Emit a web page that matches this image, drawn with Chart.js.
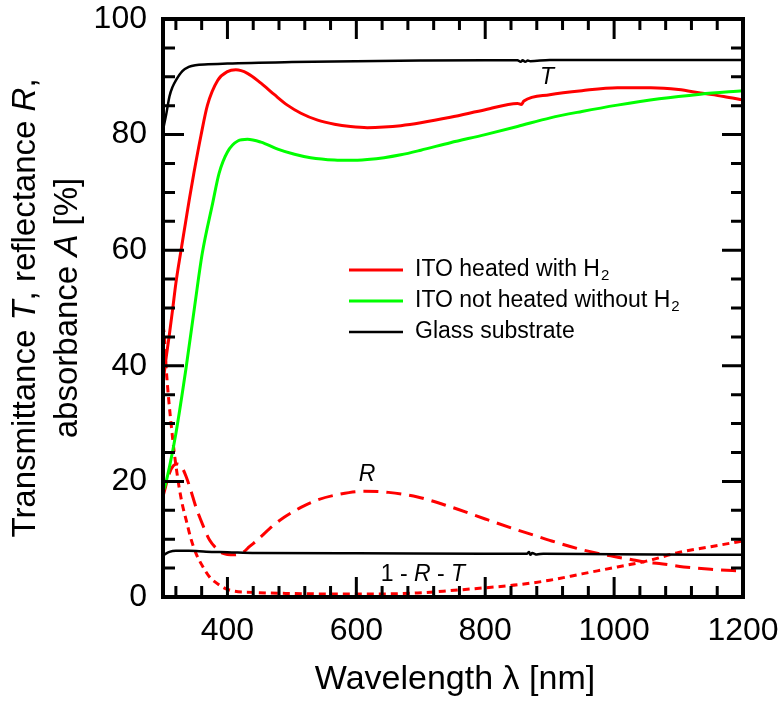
<!DOCTYPE html>
<html>
<head>
<meta charset="utf-8">
<script src="https://cdn.jsdelivr.net/npm/chart.js@4.4.1/dist/chart.umd.min.js"></script>
<style>
  html, body { margin: 0; padding: 0; background: #fff; }
  #wrap { width: 784px; height: 701px; }
</style>
</head>
<body>
<div id="wrap"><canvas id="spectra" width="784" height="701"></canvas></div>
<script>
// ---- data (wavelength in nm, values in %) ----
const glassTNm = [300, 305, 310, 315, 320, 330, 340, 350, 370, 400, 500, 600, 700, 800, 850, 855, 858, 862, 866, 870, 900, 1000, 1100, 1200];
const glassT   = [80.8, 83.5, 86.6, 88.3, 89.4, 91.0, 91.7, 92.0, 92.15, 92.3, 92.55, 92.7, 92.8, 92.85, 92.85, 92.6, 92.85, 92.6, 92.8, 92.7, 92.9, 92.9, 92.9, 92.9];

const glassRNm = [300, 310, 320, 340, 367, 400, 444, 600, 800, 865, 868, 870, 873, 880, 890, 1000, 1200];
const glassR   = [7.2, 7.8, 8.0, 8.0, 7.85, 7.75, 7.6, 7.55, 7.5, 7.5, 7.8, 7.3, 7.6, 7.35, 7.5, 7.4, 7.3];

const heatedTNm = [300, 305, 310, 315, 320, 328, 335, 341, 348, 359, 369, 385, 400, 413, 431, 452, 473, 493, 514, 540, 566, 591, 617, 643, 669, 700, 746, 800, 850, 856, 860, 900, 950, 1005, 1057, 1100, 1134, 1170, 1200];
const heatedT   = [37.0, 41.5, 45.5, 49.8, 54.3, 60.0, 64.8, 68.9, 73.4, 79.9, 85.1, 89.4, 90.9, 91.2, 90.6, 88.9, 86.9, 85.1, 83.7, 82.5, 81.8, 81.4, 81.2, 81.3, 81.55, 82.05, 83.0, 84.3, 85.4, 85.2, 85.8, 86.9, 87.6, 88.1, 88.1, 87.8, 87.2, 86.6, 86.0];

const plainTNm = [300, 302, 310, 320, 336, 349, 361, 377, 387, 400, 416, 431, 452, 478, 504, 529, 566, 591, 617, 643, 669, 700, 746, 800, 850, 901, 950, 1005, 1070, 1134, 1200];
const plainT   = [18.5, 18.8, 22.5, 28.3, 39.8, 50.2, 59.5, 68.1, 73.3, 77.0, 78.9, 79.2, 78.7, 77.5, 76.6, 76.0, 75.6, 75.55, 75.7, 76.0, 76.5, 77.3, 78.6, 80.0, 81.4, 82.9, 84.0, 85.1, 86.2, 87.0, 87.6];

const heatedRNm = [300, 310, 316, 323, 330, 336, 343, 351, 362, 372, 382, 392, 411, 425, 434, 447, 465, 488, 514, 540, 575, 612, 650, 695, 746, 800, 850, 875, 900, 953, 1000, 1030, 1050, 1070, 1108, 1150, 1200];
const heatedR   = [17.4, 21.4, 22.7, 23.0, 22.3, 20.8, 18.5, 15.6, 12.4, 9.9, 8.5, 7.6, 7.3, 7.8, 8.7, 9.9, 11.8, 13.8, 15.5, 16.8, 17.8, 18.3, 18.1, 17.3, 15.6, 13.5, 11.6, 10.7, 9.8, 8.1, 7.0, 6.4, 6.0, 5.8, 5.2, 4.8, 4.5];

const heatedANm = [300, 302, 305, 309, 313, 317, 321, 325, 330, 336, 343, 351, 360, 372, 387, 403, 440, 500, 600, 695, 746, 800, 850, 900, 950, 1005, 1050, 1100, 1150, 1200];
const heatedA   = [47.0, 45.3, 39.5, 34.0, 29.5, 25.4, 22.0, 19.0, 16.0, 13.3, 10.2, 7.6, 5.6, 3.5, 2.1, 1.2, 0.8, 0.6, 0.5, 0.7, 1.1, 1.6, 2.1, 2.9, 4.0, 5.2, 6.2, 7.7, 8.7, 9.7];

const xTickLabels = [400, 600, 800, 1000, 1200];
const yTickLabels = [0, 20, 40, 60, 80, 100];

const FONT = '"Liberation Sans", Arial, Helvetica, sans-serif';

function pts(xs, ys) {
  return xs.map((v, i) => ({ x: v, y: ys[i] }));
}

function line(data, color, width, dash) {
  return {
    data: data,
    borderColor: color,
    borderWidth: width,
    borderDash: dash || [],
    pointRadius: 0,
    fill: false,
    cubicInterpolationMode: 'monotone'
  };
}

// text with some italic pieces, e.g. [['1 - ', 0], ['R', 1]]
function richText(ctx, parts, x, y, size, align) {
  const fontOf = it => (it ? 'italic ' : '') + size + 'px ' + FONT;
  let w = 0;
  parts.forEach(p => { ctx.font = fontOf(p[1]); w += ctx.measureText(p[0]).width; });
  let cx = align === 'center' ? x - w / 2 : x;
  ctx.textAlign = 'left';
  parts.forEach(p => {
    ctx.font = fontOf(p[1]);
    ctx.fillText(p[0], cx, y);
    cx += ctx.measureText(p[0]).width;
  });
}

const decorations = {
  id: 'decorations',
  afterDraw(chart) {
    const { ctx, chartArea: a, scales: { x, y } } = chart;
    ctx.save();
    ctx.strokeStyle = '#000';
    ctx.fillStyle = '#000';

    // inward ticks on all four sides
    ctx.lineWidth = 3;
    for (let v = 320; v < 1200; v += 40) {
      const px = x.getPixelForValue(v);
      const len = xTickLabels.includes(v) ? 20 : 11;
      ctx.beginPath();
      ctx.moveTo(px, a.bottom); ctx.lineTo(px, a.bottom - len);
      ctx.moveTo(px, a.top); ctx.lineTo(px, a.top + len);
      ctx.stroke();
    }
    for (let v = 5; v < 100; v += 5) {
      const py = y.getPixelForValue(v);
      const len = v % 20 === 0 ? 21 : 12;
      ctx.beginPath();
      ctx.moveTo(a.left, py); ctx.lineTo(a.left + len, py);
      ctx.moveTo(a.right, py); ctx.lineTo(a.right - len, py);
      ctx.stroke();
    }

    // frame
    ctx.lineWidth = 4;
    ctx.strokeRect(a.left, a.top, a.right - a.left, a.bottom - a.top);

    // axis titles
    ctx.textBaseline = 'middle';
    richText(ctx, [['Wavelength \u03bb [nm]', 0]], 455, 680, 34, 'center');

    ctx.save();
    ctx.translate(26, 308);
    ctx.rotate(-Math.PI / 2);
    richText(ctx, [['Transmittance ', 0], ['T', 1], [', reflectance ', 0], ['R', 1], [',', 0]], 0, 0, 33, 'center');
    ctx.restore();
    ctx.save();
    ctx.translate(68, 308);
    ctx.rotate(-Math.PI / 2);
    richText(ctx, [['absorbance ', 0], ['A', 1], [' [%]', 0]], 0, 0, 33, 'center');
    ctx.restore();

    // curve labels
    richText(ctx, [['T', 1]], 547, 78, 23, 'center');
    richText(ctx, [['R', 1]], 367, 475, 23, 'center');
    richText(ctx, [['1 - ', 0], ['R', 1], [' - ', 0], ['T', 1]], 423, 575, 23, 'center');

    // legend
    const rows = [
      ['#ff0000', 'ITO heated with H', '2'],
      ['#00ff00', 'ITO not heated without H', '2'],
      ['#000000', 'Glass substrate', '']
    ];
    rows.forEach((r, i) => {
      const ry = 270 + i * 31;
      ctx.strokeStyle = r[0];
      ctx.lineWidth = i === 2 ? 2.5 : 3;
      ctx.beginPath();
      ctx.moveTo(349, ry); ctx.lineTo(403, ry);
      ctx.stroke();
      ctx.font = '23px ' + FONT;
      ctx.textAlign = 'left';
      ctx.fillText(r[1], 415, ry);
      if (r[2]) {
        const w = ctx.measureText(r[1]).width;
        ctx.font = '15px ' + FONT;
        ctx.fillText(r[2], 415 + w + 1, ry + 6);
      }
    });
    ctx.restore();
  }
};

new Chart(document.getElementById('spectra'), {
  type: 'line',
  data: {
    datasets: [
      line(pts(glassTNm, glassT), '#000000', 2.5),
      line(pts(glassRNm, glassR), '#000000', 2.5),
      line(pts(plainTNm, plainT), '#00ff00', 3),
      line(pts(heatedTNm, heatedT), '#ff0000', 3),
      line(pts(heatedRNm, heatedR), '#ff0000', 3, [15, 8]),
      line(pts(heatedANm, heatedA), '#ff0000', 3, [7, 5])
    ]
  },
  options: {
    responsive: false,
    animation: false,
    events: [],
    layout: { padding: { left: 0, top: 19, right: 41, bottom: 0 } },
    plugins: {
      legend: { display: false },
      tooltip: { enabled: false }
    },
    scales: {
      x: {
        type: 'linear',
        min: 300,
        max: 1200,
        afterBuildTicks: s => { s.ticks = xTickLabels.map(v => ({ value: v })); },
        afterFit: s => { s.height = 104; s.paddingLeft = 0; s.paddingRight = 0; },
        grid: { display: false, drawTicks: false },
        border: { display: false },
        ticks: { color: '#000', padding: 15, maxRotation: 0, callback: v => String(v), font: { family: FONT, size: 32 } }
      },
      y: {
        type: 'linear',
        min: 0,
        max: 100,
        afterBuildTicks: s => { s.ticks = yTickLabels.map(v => ({ value: v })); },
        afterFit: s => { s.width = 163; s.paddingTop = 0; s.paddingBottom = 0; },
        grid: { display: false, drawTicks: false },
        border: { display: false },
        ticks: { color: '#000', padding: 16, callback: v => String(v), font: { family: FONT, size: 32 } }
      }
    }
  },
  plugins: [decorations]
});
</script>
</body>
</html>
